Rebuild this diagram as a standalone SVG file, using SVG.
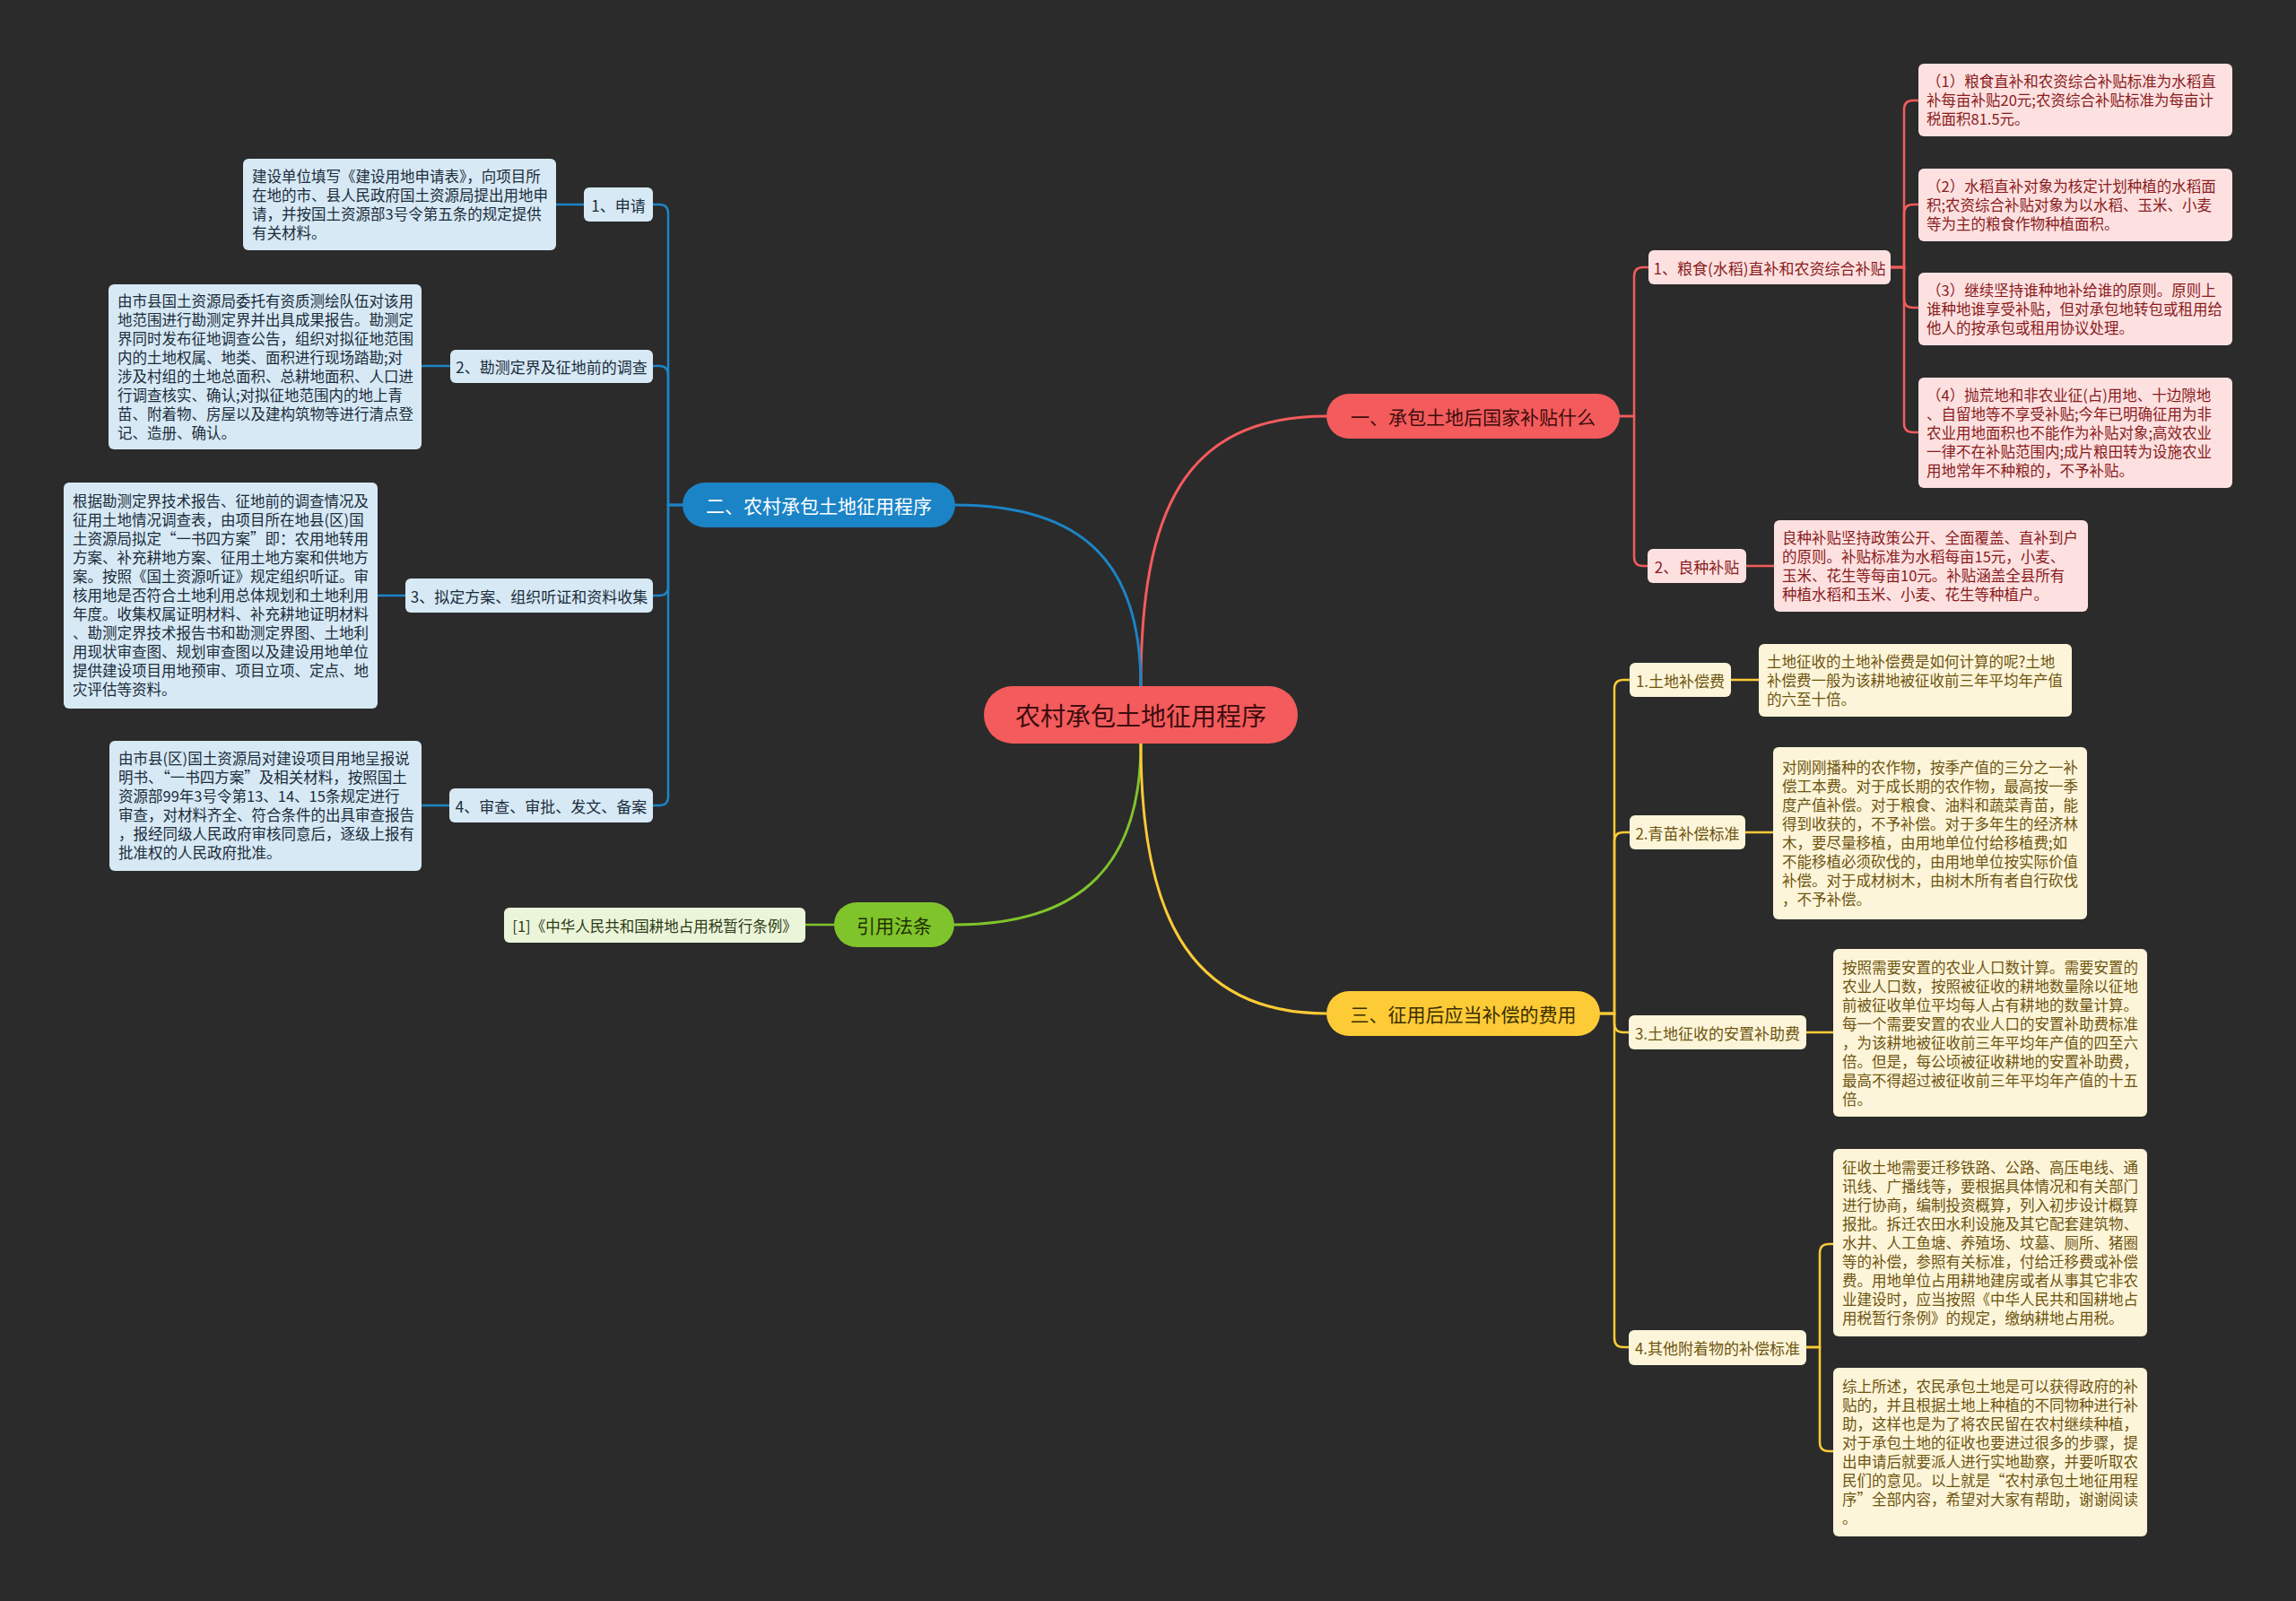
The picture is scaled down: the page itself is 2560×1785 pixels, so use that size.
<svg xmlns="http://www.w3.org/2000/svg" width="2560" height="1785" viewBox="0 0 2560 1785">
<style>
text{font-family:"Noto Sans CJK SC","Noto Sans",sans-serif}
.bt{font-size:16.5px}
.nt{font-size:17px;text-anchor:middle;dominant-baseline:central}
.mt{font-size:21px;text-anchor:middle;dominant-baseline:central}
.ln{fill:none;stroke-width:2.5;stroke-linecap:round}
.mc{fill:none;stroke-width:3}
.blue .box{fill:#d6e9f5}
.blue text{fill:#1c2c3b}
.red .box{fill:#fde1e1}
.red text{fill:#8a1c1c}
.yel .box{fill:#fdf5d9}
.yel text{fill:#6d5410}
.grn .box{fill:#ebf5da}
.grn text{fill:#2c3a14}
</style>
<rect width="2560" height="1785" fill="#2b2b2b"/>

<g id="connectors">
  <path class="mc" stroke="#f45b5c" d="M1272 765 C1272 570 1320 464 1479 464"/>
  <path class="mc" stroke="#1b84c6" d="M1272 765 C1272 630 1210 563 1065 563"/>
  <path class="mc" stroke="#80c42c" d="M1272 829 C1272 960 1210 1031 1064 1031"/>
  <path class="mc" stroke="#fdcb36" d="M1272 829 C1272 1010 1320 1130 1479 1130"/>
  <!-- blue -->
  <g stroke="#1b84c6" class="ln">
    <path class="ln" d="M761 563 H745 V238 Q745 228 735 228 H728"/>
    <path class="ln" d="M761 563 H745 V418 Q745 408 735 408 H728"/>
    <path class="ln" d="M761 563 H745 V654 Q745 664 735 664 H728"/>
    <path class="ln" d="M761 563 H745 V888 Q745 898 735 898 H728"/>
    <path class="ln" d="M651 228 H620"/>
    <path class="ln" d="M502 408 H470"/>
    <path class="ln" d="M452 664 H421"/>
    <path class="ln" d="M501 898 H470"/>
  </g>
  <!-- red -->
  <g stroke="#f45b5c" class="ln">
    <path class="ln" d="M1806 464 H1822 V308 Q1822 298 1832 298 H1838"/>
    <path class="ln" d="M1806 464 H1822 V621 Q1822 631 1832 631 H1837"/>
    <path class="ln" d="M2108 298 H2123 V122 Q2123 112 2133 112 H2139"/>
    <path class="ln" d="M2108 298 H2123 V238 Q2123 228 2133 228 H2139"/>
    <path class="ln" d="M2108 298 H2123 V333 Q2123 343 2133 343 H2139"/>
    <path class="ln" d="M2108 298 H2123 V472 Q2123 482 2133 482 H2139"/>
    <path class="ln" d="M1947 631 H1978"/>
  </g>
  <!-- yellow -->
  <g stroke="#fdcb36" class="ln">
    <path class="ln" d="M1784 1130 H1800 V768 Q1800 758 1810 758 H1817"/>
    <path class="ln" d="M1784 1130 H1800 V938 Q1800 928 1810 928 H1817"/>
    <path class="ln" d="M1784 1130 H1800 V1141 Q1800 1151 1810 1151 H1816"/>
    <path class="ln" d="M1784 1130 H1800 V1492 Q1800 1502 1810 1502 H1816"/>
    <path class="ln" d="M1930 758 H1961"/>
    <path class="ln" d="M1946 928 H1977"/>
    <path class="ln" d="M2014 1151 H2044"/>
    <path class="ln" d="M2014 1502 H2029 V1397 Q2029 1387 2039 1387 H2044"/>
    <path class="ln" d="M2014 1502 H2029 V1608 Q2029 1618 2039 1618 H2044"/>
  </g>
  <!-- green -->
  <path class="ln" stroke="#80c42c" d="M930 1031 H898"/>
</g>

<g id="root">
  <rect x="1097" y="765" width="350" height="64" rx="32" fill="#f45b5c"/>
  <text x="1272" y="797" font-size="28" text-anchor="middle" dominant-baseline="central" fill="#3d0d0d">农村承包土地征用程序</text>
</g>

<g id="main-1">
  <rect x="1479" y="439" width="327" height="50" rx="25" fill="#f45b5c"/>
  <text class="mt" x="1642.5" y="464" fill="#3d0d0d">一、承包土地后国家补贴什么</text>
</g>
<g id="main-2">
  <rect x="761" y="538" width="304" height="50" rx="25" fill="#1b84c6"/>
  <text class="mt" x="913" y="563" fill="#ffffff">二、农村承包土地征用程序</text>
</g>
<g id="main-3">
  <rect x="1479" y="1105" width="305" height="50" rx="25" fill="#fdcb36"/>
  <text class="mt" x="1631.5" y="1130" fill="#3a2e00">三、征用后应当补偿的费用</text>
</g>
<g id="main-4">
  <rect x="930" y="1006" width="134" height="50" rx="25" fill="#80c42c"/>
  <text class="mt" x="997" y="1031" fill="#1f3000">引用法条</text>
</g>

<g class="blue">
  <g id="b1">
    <rect class="box" x="651" y="209" width="77" height="38" rx="6"/>
    <text class="nt" x="689.5" y="228">1、申请</text>
  </g>
  <g id="b1t">
    <rect class="box" x="271" y="177" width="349" height="102" rx="6"/>
    <text class="bt" x="281" y="203"><tspan x="281">建设单位填写《建设用地申请表》，向项目所</tspan><tspan x="281" dy="21">在地的市、县人民政府国土资源局提出用地申</tspan><tspan x="281" dy="21">请，并按国土资源部3号令第五条的规定提供</tspan><tspan x="281" dy="21">有关材料。</tspan></text>
  </g>
  <g id="b2">
    <rect class="box" x="502" y="390" width="226" height="37" rx="6"/>
    <text class="nt" x="615" y="408.5">2、勘测定界及征地前的调查</text>
  </g>
  <g id="b2t">
    <rect class="box" x="121" y="317" width="349" height="184" rx="6"/>
    <text class="bt" x="131" y="342"><tspan x="131">由市县国土资源局委托有资质测绘队伍对该用</tspan><tspan x="131" dy="21">地范围进行勘测定界并出具成果报告。勘测定</tspan><tspan x="131" dy="21">界同时发布征地调查公告，组织对拟征地范围</tspan><tspan x="131" dy="21">内的土地权属、地类、面积进行现场踏勘;对</tspan><tspan x="131" dy="21">涉及村组的土地总面积、总耕地面积、人口进</tspan><tspan x="131" dy="21">行调查核实、确认;对拟征地范围内的地上青</tspan><tspan x="131" dy="21">苗、附着物、房屋以及建构筑物等进行清点登</tspan><tspan x="131" dy="21">记、造册、确认。</tspan></text>
  </g>
  <g id="b3">
    <rect class="box" x="452" y="645" width="276" height="38" rx="6"/>
    <text class="nt" x="590" y="664">3、拟定方案、组织听证和资料收集</text>
  </g>
  <g id="b3t">
    <rect class="box" x="71" y="538" width="350" height="252" rx="6"/>
    <text class="bt" x="81" y="565"><tspan x="81">根据勘测定界技术报告、征地前的调查情况及</tspan><tspan x="81" dy="21">征用土地情况调查表，由项目所在地县(区)国</tspan><tspan x="81" dy="21">土资源局拟定“一书四方案”即：农用地转用</tspan><tspan x="81" dy="21">方案、补充耕地方案、征用土地方案和供地方</tspan><tspan x="81" dy="21">案。按照《国土资源听证》规定组织听证。审</tspan><tspan x="81" dy="21">核用地是否符合土地利用总体规划和土地利用</tspan><tspan x="81" dy="21">年度。收集权属证明材料、补充耕地证明材料</tspan><tspan x="81" dy="21">、勘测定界技术报告书和勘测定界图、土地利</tspan><tspan x="81" dy="21">用现状审查图、规划审查图以及建设用地单位</tspan><tspan x="81" dy="21">提供建设项目用地预审、项目立项、定点、地</tspan><tspan x="81" dy="21">灾评估等资料。</tspan></text>
  </g>
  <g id="b4">
    <rect class="box" x="501" y="879" width="227" height="38" rx="6"/>
    <text class="nt" x="614.5" y="898">4、审查、审批、发文、备案</text>
  </g>
  <g id="b4t">
    <rect class="box" x="122" y="826" width="348" height="145" rx="6"/>
    <text class="bt" x="132" y="852"><tspan x="132">由市县(区)国土资源局对建设项目用地呈报说</tspan><tspan x="132" dy="21">明书、“一书四方案”及相关材料，按照国土</tspan><tspan x="132" dy="21">资源部99年3号令第13、14、15条规定进行</tspan><tspan x="132" dy="21">审查，对材料齐全、符合条件的出具审查报告</tspan><tspan x="132" dy="21">，报经同级人民政府审核同意后，逐级上报有</tspan><tspan x="132" dy="21">批准权的人民政府批准。</tspan></text>
  </g>
</g>

<g class="red">
  <g id="r1">
    <rect class="box" x="1838" y="279" width="270" height="38" rx="6"/>
    <text class="nt" x="1973" y="298">1、粮食(水稻)直补和农资综合补贴</text>
  </g>
  <g id="r1a">
    <rect class="box" x="2139" y="71" width="350" height="81" rx="6"/>
    <text class="bt" x="2148" y="97"><tspan x="2148">（1）粮食直补和农资综合补贴标准为水稻直</tspan><tspan x="2148" dy="21">补每亩补贴20元;农资综合补贴标准为每亩计</tspan><tspan x="2148" dy="21">税面积81.5元。</tspan></text>
  </g>
  <g id="r1b">
    <rect class="box" x="2139" y="188" width="350" height="81" rx="6"/>
    <text class="bt" x="2148" y="214"><tspan x="2148">（2）水稻直补对象为核定计划种植的水稻面</tspan><tspan x="2148" dy="21">积;农资综合补贴对象为以水稻、玉米、小麦</tspan><tspan x="2148" dy="21">等为主的粮食作物种植面积。</tspan></text>
  </g>
  <g id="r1c">
    <rect class="box" x="2139" y="304" width="350" height="81" rx="6"/>
    <text class="bt" x="2148" y="330"><tspan x="2148">（3）继续坚持谁种地补给谁的原则。原则上</tspan><tspan x="2148" dy="21">谁种地谁享受补贴，但对承包地转包或租用给</tspan><tspan x="2148" dy="21">他人的按承包或租用协议处理。</tspan></text>
  </g>
  <g id="r1d">
    <rect class="box" x="2139" y="421" width="350" height="123" rx="6"/>
    <text class="bt" x="2148" y="447"><tspan x="2148">（4）抛荒地和非农业征(占)用地、十边隙地</tspan><tspan x="2148" dy="21">、自留地等不享受补贴;今年已明确征用为非</tspan><tspan x="2148" dy="21">农业用地面积也不能作为补贴对象;高效农业</tspan><tspan x="2148" dy="21">一律不在补贴范围内;成片粮田转为设施农业</tspan><tspan x="2148" dy="21">用地常年不种粮的，不予补贴。</tspan></text>
  </g>
  <g id="r2">
    <rect class="box" x="1837" y="612" width="110" height="38" rx="6"/>
    <text class="nt" x="1892" y="631">2、良种补贴</text>
  </g>
  <g id="r2a">
    <rect class="box" x="1978" y="580" width="350" height="102" rx="6"/>
    <text class="bt" x="1987" y="606"><tspan x="1987">良种补贴坚持政策公开、全面覆盖、直补到户</tspan><tspan x="1987" dy="21">的原则。补贴标准为水稻每亩15元，小麦、</tspan><tspan x="1987" dy="21">玉米、花生等每亩10元。补贴涵盖全县所有</tspan><tspan x="1987" dy="21">种植水稻和玉米、小麦、花生等种植户。</tspan></text>
  </g>
</g>

<g class="yel">
  <g id="y1">
    <rect class="box" x="1817" y="739" width="113" height="38" rx="6"/>
    <text class="nt" x="1873.5" y="758">1.土地补偿费</text>
  </g>
  <g id="y1a">
    <rect class="box" x="1961" y="718" width="349" height="81" rx="6"/>
    <text class="bt" x="1970" y="744"><tspan x="1970">土地征收的土地补偿费是如何计算的呢?土地</tspan><tspan x="1970" dy="21">补偿费一般为该耕地被征收前三年平均年产值</tspan><tspan x="1970" dy="21">的六至十倍。</tspan></text>
  </g>
  <g id="y2">
    <rect class="box" x="1817" y="909" width="129" height="38" rx="6"/>
    <text class="nt" x="1881.5" y="928">2.青苗补偿标准</text>
  </g>
  <g id="y2a">
    <rect class="box" x="1977" y="833" width="350" height="192" rx="6"/>
    <text class="bt" x="1987" y="862"><tspan x="1987">对刚刚播种的农作物，按季产值的三分之一补</tspan><tspan x="1987" dy="21">偿工本费。对于成长期的农作物，最高按一季</tspan><tspan x="1987" dy="21">度产值补偿。对于粮食、油料和蔬菜青苗，能</tspan><tspan x="1987" dy="21">得到收获的，不予补偿。对于多年生的经济林</tspan><tspan x="1987" dy="21">木，要尽量移植，由用地单位付给移植费;如</tspan><tspan x="1987" dy="21">不能移植必须砍伐的，由用地单位按实际价值</tspan><tspan x="1987" dy="21">补偿。对于成材树木，由树木所有者自行砍伐</tspan><tspan x="1987" dy="21">，不予补偿。</tspan></text>
  </g>
  <g id="y3">
    <rect class="box" x="1816" y="1132" width="198" height="38" rx="6"/>
    <text class="nt" x="1915" y="1151">3.土地征收的安置补助费</text>
  </g>
  <g id="y3a">
    <rect class="box" x="2044" y="1058" width="350" height="187" rx="6"/>
    <text class="bt" x="2054" y="1084.5"><tspan x="2054">按照需要安置的农业人口数计算。需要安置的</tspan><tspan x="2054" dy="21">农业人口数，按照被征收的耕地数量除以征地</tspan><tspan x="2054" dy="21">前被征收单位平均每人占有耕地的数量计算。</tspan><tspan x="2054" dy="21">每一个需要安置的农业人口的安置补助费标准</tspan><tspan x="2054" dy="21">，为该耕地被征收前三年平均年产值的四至六</tspan><tspan x="2054" dy="21">倍。但是，每公顷被征收耕地的安置补助费，</tspan><tspan x="2054" dy="21">最高不得超过被征收前三年平均年产值的十五</tspan><tspan x="2054" dy="21">倍。</tspan></text>
  </g>
  <g id="y4">
    <rect class="box" x="1816" y="1483" width="198" height="39" rx="6"/>
    <text class="nt" x="1915" y="1502.5">4.其他附着物的补偿标准</text>
  </g>
  <g id="y4a">
    <rect class="box" x="2044" y="1281" width="350" height="209" rx="6"/>
    <text class="bt" x="2054" y="1308"><tspan x="2054">征收土地需要迁移铁路、公路、高压电线、通</tspan><tspan x="2054" dy="21">讯线、广播线等，要根据具体情况和有关部门</tspan><tspan x="2054" dy="21">进行协商，编制投资概算，列入初步设计概算</tspan><tspan x="2054" dy="21">报批。拆迁农田水利设施及其它配套建筑物、</tspan><tspan x="2054" dy="21">水井、人工鱼塘、养殖场、坟墓、厕所、猪圈</tspan><tspan x="2054" dy="21">等的补偿，参照有关标准，付给迁移费或补偿</tspan><tspan x="2054" dy="21">费。用地单位占用耕地建房或者从事其它非农</tspan><tspan x="2054" dy="21">业建设时，应当按照《中华人民共和国耕地占</tspan><tspan x="2054" dy="21">用税暂行条例》的规定，缴纳耕地占用税。</tspan></text>
  </g>
  <g id="y4b">
    <rect class="box" x="2044" y="1525" width="350" height="188" rx="6"/>
    <text class="bt" x="2054" y="1552"><tspan x="2054">综上所述，农民承包土地是可以获得政府的补</tspan><tspan x="2054" dy="21">贴的，并且根据土地上种植的不同物种进行补</tspan><tspan x="2054" dy="21">助，这样也是为了将农民留在农村继续种植，</tspan><tspan x="2054" dy="21">对于承包土地的征收也要进过很多的步骤，提</tspan><tspan x="2054" dy="21">出申请后就要派人进行实地勘察，并要听取农</tspan><tspan x="2054" dy="21">民们的意见。以上就是“农村承包土地征用程</tspan><tspan x="2054" dy="21">序”全部内容，希望对大家有帮助，谢谢阅读</tspan><tspan x="2054" dy="21">。</tspan></text>
  </g>
</g>

<g class="grn">
  <g id="g1">
    <rect class="box" x="562" y="1012" width="336" height="39" rx="6"/>
    <text class="nt" x="730" y="1031.5" style="font-size:16.5px">[1]《中华人民共和国耕地占用税暂行条例》</text>
  </g>
</g>
</svg>
